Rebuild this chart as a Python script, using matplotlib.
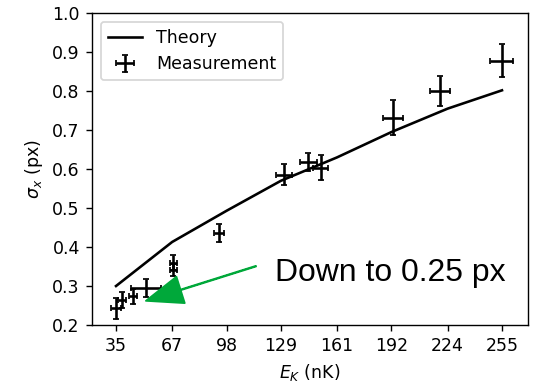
import matplotlib
matplotlib.use("Agg")
import matplotlib.pyplot as plt

# theory curve (nK, px)
E_theory = [35, 67, 98, 129, 161, 192, 224, 255]
sigma_theory = [0.300, 0.413, 0.493, 0.570, 0.630, 0.695, 0.755, 0.802]

# measurements
E_meas = [35.0, 38.2, 44.5, 52.1, 67.7, 67.7, 93.7, 130.9, 144.6, 151.7, 192.7, 219.7, 254.8]
sigma_meas = [0.243, 0.264, 0.274, 0.296, 0.360, 0.341, 0.437, 0.586, 0.619, 0.604, 0.732, 0.800, 0.878]
E_err = [2.6, 2.3, 2.3, 8.4, 2.0, 2.0, 2.8, 4.5, 4.8, 4.3, 5.7, 5.7, 6.4]
sigma_err = [0.027, 0.021, 0.019, 0.023, 0.019, 0.016, 0.023, 0.028, 0.023, 0.031, 0.044, 0.038, 0.043]

tick_vals = [35, 67, 98, 129, 161, 192, 224, 255]

fig = plt.figure(figsize=(5.36 / 1.25, 3.86 / 1.25), dpi=125)
ax = fig.add_axes([0.1716, 0.158, 0.985 - 0.1716, 0.966 - 0.158])

ax.plot(E_theory, sigma_theory, color="black", label="Theory")
ax.errorbar(E_meas, sigma_meas, xerr=E_err, yerr=sigma_err, fmt="none",
            ecolor="black", capsize=2, label="Measurement")

ax.set_xticks(tick_vals)
ax.set_xlim(21.3, 269.8)
ax.set_ylim(0.2, 1.0)
ax.set_xlabel(r"$E_K$ (nK)")
ax.set_ylabel(r"$\sigma_x$ (px)")
ax.legend(loc="upper left")

# arrow and note
ax.annotate("", xy=(52, 0.262), xytext=(114.8, 0.351),
            arrowprops=dict(color="#00a83a", width=0.4, headwidth=16, headlength=21))
ax.text(125.6, 0.334, "Down to 0.25 px", fontsize=18.4, family="Liberation Sans",
        ha="left", va="center")

fig.savefig("out.png", dpi=125)
